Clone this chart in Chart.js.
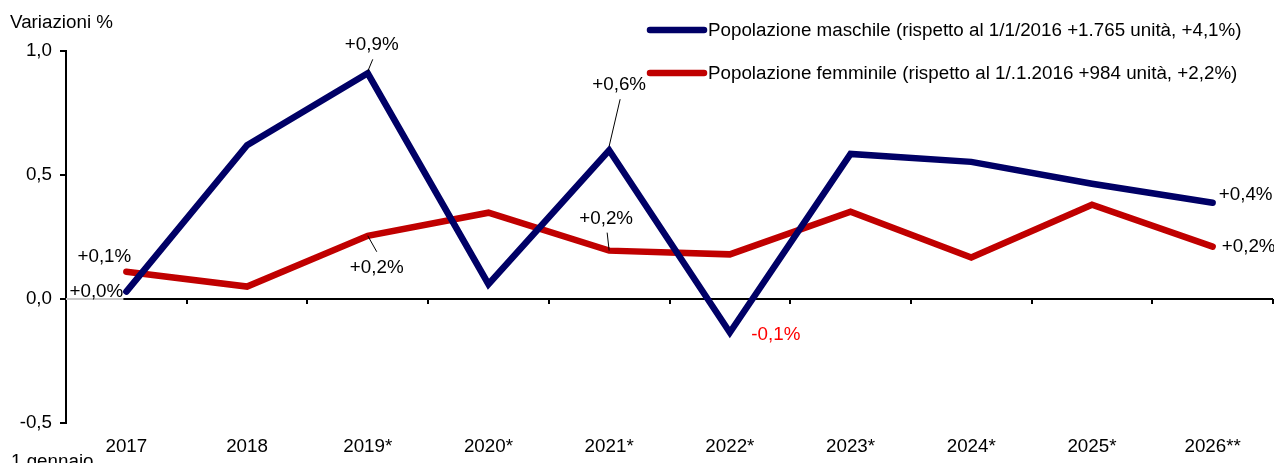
<!DOCTYPE html>
<html>
<head>
<meta charset="utf-8">
<script src="https://cdn.jsdelivr.net/npm/chart.js@4.4.1/dist/chart.umd.min.js"></script>
<style>
html,body{margin:0;padding:0;background:#fff;}
#wrap{width:1274px;height:463px;position:relative;}
</style>
</head>
<body>
<div id="wrap"><canvas id="c" width="1274" height="463"></canvas></div>
<script>
const categories = ['2017','2018','2019*','2020*','2021*','2022*','2023*','2024*','2025*','2026**'];
const maleValues   = [0.03, 0.62, 0.91, 0.06, 0.60, -0.135, 0.585, 0.553, 0.465, 0.388];
const femaleValues = [0.11, 0.05, 0.255, 0.348, 0.195, 0.18, 0.352, 0.167, 0.38, 0.211];
const maleLabels   = ['+0,0%', null, '+0,9%', null, '+0,6%', '-0,1%', null, null, null, '+0,4%'];
const femaleLabels = ['+0,1%', null, '+0,2%', null, '+0,2%', null, null, null, null, '+0,2%'];
const yTickValues  = [-0.5, 0, 0.5, 1.0];
const seriesNames  = [
  'Popolazione maschile (rispetto al 1/1/2016 +1.765 unità, +4,1%)',
  'Popolazione femminile (rispetto al 1/.1.2016 +984 unità, +2,2%)'
];
const yTitle = 'Variazioni %';
const xTitle = '1 gennaio';

const FONT = '"Liberation Sans", Arial, sans-serif';
const FS = 18.8;
const MALE = '#000066';
const FEMALE = '#C00000';

// label placement (pixel offsets from the data point) and leader lines
const labelStyle = {
  0: {0:{dx:-30,dy:0}, 2:{dx:4,dy:-28,lead:[0,-2,5,-14]}, 4:{dx:10,dy:-65,lead:[0,-4,11,-51]}, 5:{dx:46,dy:2,color:'#FF0000'}, 9:{dx:33,dy:-8}},
  1: {0:{dx:-22,dy:-15}, 2:{dx:9,dy:32,lead:[0,0,9,16]}, 4:{dx:-3,dy:-32,lead:[0,0,-2,-18]}, 9:{dx:36,dy:0}}
};
const allLabels = [maleLabels, femaleLabels];

const decor = {
  id: 'decor',
  beforeDatasetsDraw(chart) {
    const {ctx, chartArea, scales} = chart;
    const x = scales.x, y = scales.y;
    const y0 = Math.round(y.getPixelForValue(0));
    const firstX = x.getPixelForValue(0);
    ctx.save();
    ctx.lineWidth = 2;
    ctx.strokeStyle = '#c8c8c8';
    ctx.beginPath(); ctx.moveTo(chartArea.left, y0); ctx.lineTo(firstX - 3, y0); ctx.stroke();
    ctx.strokeStyle = '#000';
    ctx.beginPath(); ctx.moveTo(firstX - 3, y0); ctx.lineTo(chartArea.right, y0); ctx.stroke();
    const half = (x.getPixelForValue(1) - x.getPixelForValue(0)) / 2;
    ctx.lineWidth = 2;
    for (let i = 0; i < categories.length; i++) {
      const px = Math.round(x.getPixelForValue(i) + half);
      ctx.beginPath(); ctx.moveTo(px, y0); ctx.lineTo(px, y0 + 5); ctx.stroke();
    }
    ctx.restore();
  },
  afterDraw(chart) {
    const {ctx} = chart;
    ctx.save();
    ctx.font = FS + 'px ' + FONT;
    ctx.fillStyle = '#000';
    ctx.textAlign = 'left';
    ctx.textBaseline = 'alphabetic';
    ctx.fillText(yTitle, 10, 28);
    ctx.fillText(xTitle, 11, 467);
    // legend
    const ly = [30, 73];
    chart.data.datasets.forEach((ds, i) => {
      ctx.strokeStyle = ds.borderColor;
      ctx.lineWidth = 6.5;
      ctx.lineCap = 'round';
      ctx.beginPath(); ctx.moveTo(650, ly[i]); ctx.lineTo(704, ly[i]); ctx.stroke();
      ctx.fillStyle = '#000';
      ctx.textBaseline = 'middle';
      ctx.fillText(ds.label, 708, ly[i] + 1);
    });
    // data labels
    ctx.textAlign = 'center';
    ctx.textBaseline = 'middle';
    chart.data.datasets.forEach((ds, di) => {
      const meta = chart.getDatasetMeta(di);
      allLabels[di].forEach((txt, i) => {
        if (!txt) return;
        const pt = meta.data[i];
        const st = labelStyle[di][i] || {dx:0, dy:-15};
        if (st.lead) {
          ctx.strokeStyle = '#000'; ctx.lineWidth = 1; ctx.lineCap = 'butt';
          ctx.beginPath();
          ctx.moveTo(pt.x + st.lead[0], pt.y + st.lead[1]);
          ctx.lineTo(pt.x + st.lead[2], pt.y + st.lead[3]);
          ctx.stroke();
        }
        ctx.fillStyle = st.color || '#000';
        ctx.fillText(txt, pt.x + st.dx, pt.y + st.dy);
      });
    });
    ctx.restore();
  }
};

new Chart(document.getElementById('c'), {
  type: 'line',
  data: {
    labels: categories,
    datasets: [
      {label: seriesNames[0], data: maleValues, borderColor: MALE, backgroundColor: MALE, borderWidth: 6.5, pointRadius: 0, tension: 0, borderJoinStyle: 'miter', borderCapStyle: 'round'},
      {label: seriesNames[1], data: femaleValues, borderColor: FEMALE, backgroundColor: FEMALE, borderWidth: 6.5, pointRadius: 0, tension: 0, borderJoinStyle: 'miter', borderCapStyle: 'round'}
    ]
  },
  options: {
    responsive: false,
    devicePixelRatio: 1,
    animation: false,
    layout: {padding: {top: 51, right: 1, left: 0, bottom: 0}},
    plugins: {legend: {display: false}, tooltip: {enabled: false}},
    scales: {
      x: {
        type: 'category',
        offset: true,
        grid: {display: false},
        border: {display: false},
        ticks: {color: '#000', font: {family: FONT, size: FS}, padding: 5, maxRotation: 0, autoSkip: false},
        afterFit(s) { s.height = 40; }
      },
      y: {
        min: -0.5, max: 1.0,
        afterBuildTicks(s) { s.ticks = yTickValues.map(v => ({value: v})); },
        grid: {drawOnChartArea: false, drawTicks: true, tickLength: 6, color: '#000', tickColor: '#000', lineWidth: 2},
        border: {display: true, color: '#000', width: 2},
        ticks: {color: '#000', font: {family: FONT, size: FS}, padding: 8,
          callback: v => v.toFixed(1).replace('.', ',')},
        afterFit(s) { s.width = 66; }
      }
    }
  },
  plugins: [decor]
});
</script>
</body>
</html>
